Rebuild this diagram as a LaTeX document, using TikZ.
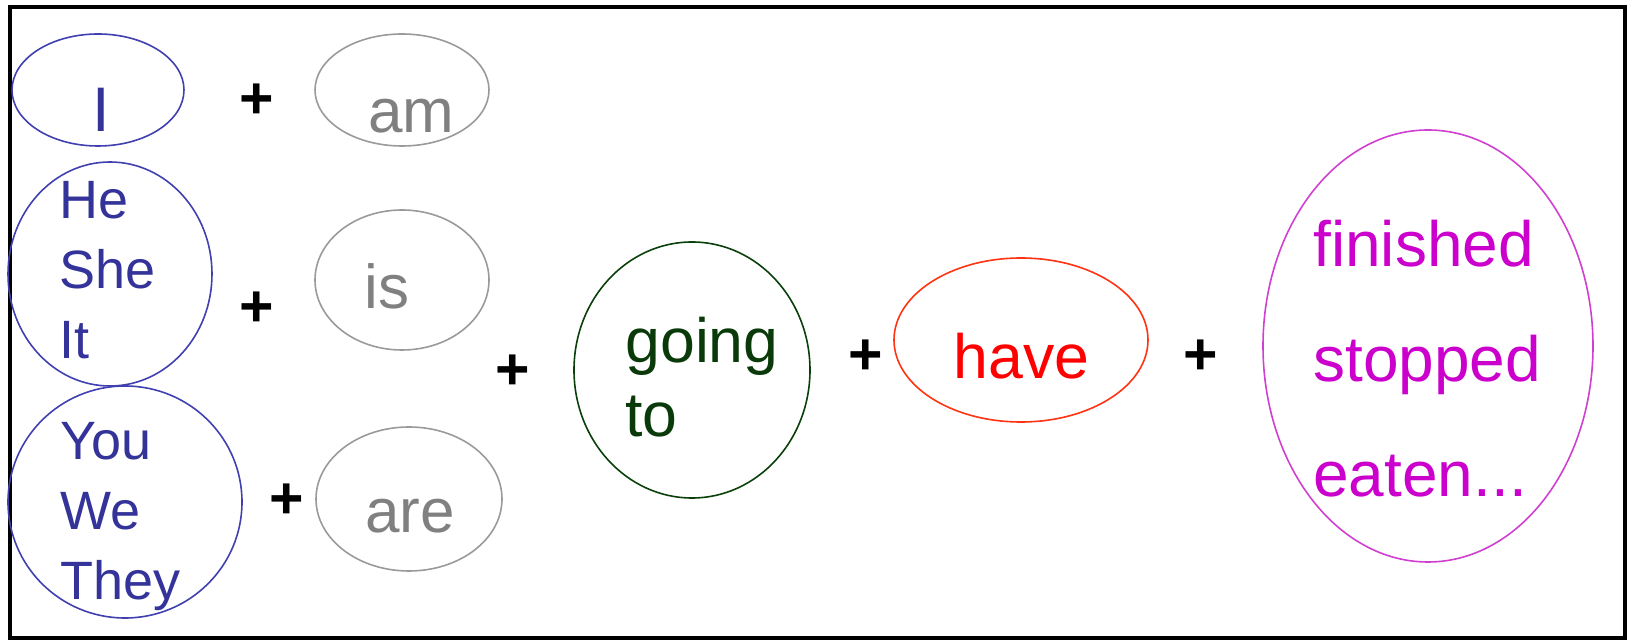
\documentclass[tikz,border=0pt]{standalone}
\usepackage{fontspec}
\setmainfont{Liberation Sans}
\usetikzlibrary{shapes.geometric}
\definecolor{pronoun}{HTML}{333399}
\definecolor{pronounline}{HTML}{4040B0}
\definecolor{verb}{HTML}{808080}
\definecolor{verbline}{HTML}{9A9A9A}
\definecolor{goingto}{HTML}{0A3A0A}
\definecolor{goingline}{HTML}{0A400A}
\definecolor{haveword}{HTML}{FF0000}
\definecolor{haveline}{HTML}{FF3311}
\definecolor{part}{HTML}{CC00CC}
\definecolor{partline}{HTML}{D040D0}
\tikzset{
  bubble/.style={ellipse,draw,line width=0.8pt,inner sep=0pt,outer sep=0pt},
  word/.style={anchor=base west,inner sep=0pt,align=left},
  plus/.style={font=\fontsize{29.5pt}{30pt}\selectfont\bfseries,inner sep=0pt}
}

\begin{document}
\begin{tikzpicture}[x=0.5pt,y=-0.5pt]
  \useasboundingbox (0,0) rectangle (1630,640);
  \draw[line width=2.4pt] (10,7) rectangle (1625,638);
  % subjects
  \node[bubble,draw=pronounline,minimum width=86pt,minimum height=56pt] (pI) at (98,90) {};
  \node[bubble,draw=pronounline,minimum width=102pt,minimum height=112pt] (pHe) at (110,274) {};
  \node[bubble,draw=pronounline,minimum width=117pt,minimum height=116pt] (pYou) at (125,502) {};
  \node[word,text=pronoun,font=\fontsize{31.5pt}{36pt}\selectfont] (tI) at (92,132) {I};
  \node[word,text=pronoun,font=\fontsize{27pt}{35pt}\selectfont] (tHe) at (59,359) {He\\She\\It};
  \node[word,text=pronoun,font=\fontsize{27pt}{35pt}\selectfont] (tYou) at (60,600) {You\\We\\They};
  % be
  \node[bubble,draw=verbline,minimum width=87pt,minimum height=56pt] (vAm) at (402,90) {};
  \node[bubble,draw=verbline,minimum width=87pt,minimum height=70pt] (vIs) at (402,280) {};
  \node[bubble,draw=verbline,minimum width=93pt,minimum height=72pt] (vAre) at (409,499) {};
  \node[word,text=verb,font=\fontsize{31pt}{36pt}\selectfont] (tAm) at (368,133) {am};
  \node[word,text=verb,font=\fontsize{31pt}{36pt}\selectfont] (tIs) at (364,309) {is};
  \node[word,text=verb,font=\fontsize{31pt}{36pt}\selectfont] (tAre) at (365,533) {are};
  % going to + have + participle
  \node[bubble,draw=goingline,minimum width=118pt,minimum height=128pt] (going) at (692,370) {};
  \node[word,text=goingto,font=\fontsize{31.3pt}{37pt}\selectfont] (tGoing) at (625,437) {going\\to};
  \node[bubble,draw=haveline,minimum width=127pt,minimum height=82pt] (have) at (1021,340) {};
  \node[word,text=haveword,font=\fontsize{31.3pt}{37pt}\selectfont] (tHave) at (953,379) {have};
  \node[bubble,draw=partline,minimum width=165pt,minimum height=216pt] (part) at (1428,346) {};
  \node[word,text=part,font=\fontsize{32pt}{57.5pt}\selectfont] (tPart) at (1313,497) {finished\\stopped\\eaten...};
  % plus signs
  \node[plus] (plus1) at (257,101) {+};
  \node[plus] (plus2) at (257,309) {+};
  \node[plus] (plus3) at (287,501) {+};
  \node[plus] (plus4) at (513,372) {+};
  \node[plus] (plus5) at (866,357) {+};
  \node[plus] (plus6) at (1201,357) {+};
\end{tikzpicture}
\end{document}
